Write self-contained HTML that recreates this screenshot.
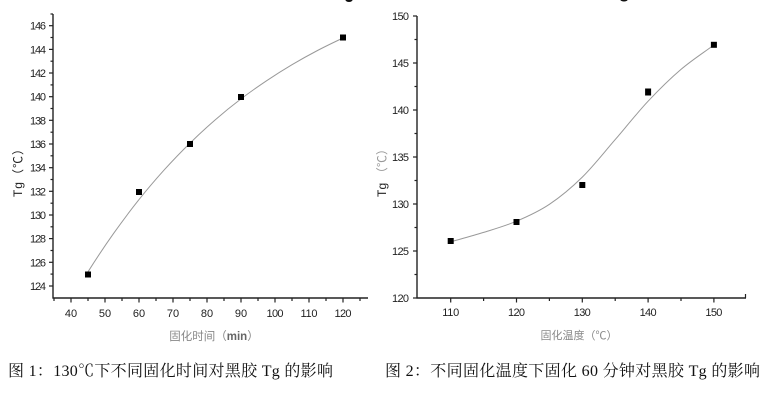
<!DOCTYPE html>
<html><head><meta charset="utf-8"><style>
html,body{margin:0;padding:0;background:#fff;}
svg{display:block;}
.t{font-family:"Liberation Sans","Noto Sans CJK SC",sans-serif;font-size:11px;fill:#222;}
.cap{font-family:"Liberation Serif","Noto Serif CJK SC",serif;font-size:16px;fill:#111;}
.ttl{font-family:"Liberation Sans","Noto Sans CJK SC",sans-serif;font-size:11.5px;fill:#888;}
</style></head><body>
<svg width="775" height="403" viewBox="0 0 775 403" xmlns="http://www.w3.org/2000/svg">
<rect width="775" height="403" fill="#fff"/>
<ellipse cx="349" cy="0" rx="3.5" ry="2" fill="#111"/>
<ellipse cx="624" cy="0" rx="3.5" ry="1.5" fill="#111"/>

<g stroke="#222" stroke-width="1.4" fill="none">
<line x1="53" y1="14" x2="53" y2="298.5"/>
<line x1="52.5" y1="298" x2="368" y2="298"/>
</g>
<g stroke="#222" stroke-width="1.2">
<line x1="49" y1="25.7" x2="53" y2="25.7"/>
<line x1="49" y1="49.4" x2="53" y2="49.4"/>
<line x1="49" y1="73" x2="53" y2="73"/>
<line x1="49" y1="96.7" x2="53" y2="96.7"/>
<line x1="49" y1="120.3" x2="53" y2="120.3"/>
<line x1="49" y1="144" x2="53" y2="144"/>
<line x1="49" y1="167.7" x2="53" y2="167.7"/>
<line x1="49" y1="191.3" x2="53" y2="191.3"/>
<line x1="49" y1="215" x2="53" y2="215"/>
<line x1="49" y1="238.6" x2="53" y2="238.6"/>
<line x1="49" y1="262.3" x2="53" y2="262.3"/>
<line x1="49" y1="286" x2="53" y2="286"/>
<line x1="50.5" y1="14" x2="53" y2="14"/>
<line x1="50.5" y1="37.5" x2="53" y2="37.5"/>
<line x1="50.5" y1="61.2" x2="53" y2="61.2"/>
<line x1="50.5" y1="84.9" x2="53" y2="84.9"/>
<line x1="50.5" y1="108.5" x2="53" y2="108.5"/>
<line x1="50.5" y1="132.2" x2="53" y2="132.2"/>
<line x1="50.5" y1="155.8" x2="53" y2="155.8"/>
<line x1="50.5" y1="179.5" x2="53" y2="179.5"/>
<line x1="50.5" y1="203.2" x2="53" y2="203.2"/>
<line x1="50.5" y1="226.8" x2="53" y2="226.8"/>
<line x1="50.5" y1="250.5" x2="53" y2="250.5"/>
<line x1="50.5" y1="274.1" x2="53" y2="274.1"/>
<line x1="71" y1="298" x2="71" y2="302.5"/>
<line x1="105" y1="298" x2="105" y2="302.5"/>
<line x1="139" y1="298" x2="139" y2="302.5"/>
<line x1="173" y1="298" x2="173" y2="302.5"/>
<line x1="207" y1="298" x2="207" y2="302.5"/>
<line x1="241" y1="298" x2="241" y2="302.5"/>
<line x1="275" y1="298" x2="275" y2="302.5"/>
<line x1="309" y1="298" x2="309" y2="302.5"/>
<line x1="343" y1="298" x2="343" y2="302.5"/>
<line x1="54" y1="298" x2="54" y2="301"/>
<line x1="88" y1="298" x2="88" y2="301"/>
<line x1="122" y1="298" x2="122" y2="301"/>
<line x1="156" y1="298" x2="156" y2="301"/>
<line x1="190" y1="298" x2="190" y2="301"/>
<line x1="224" y1="298" x2="224" y2="301"/>
<line x1="258" y1="298" x2="258" y2="301"/>
<line x1="292" y1="298" x2="292" y2="301"/>
<line x1="326" y1="298" x2="326" y2="301"/>
<line x1="360" y1="298" x2="360" y2="301"/>
</g>
<g class="t" text-anchor="end">
<text x="46" y="29.7" textLength="16">146</text>
<text x="46" y="53.4" textLength="16">144</text>
<text x="46" y="77" textLength="16">142</text>
<text x="46" y="100.7" textLength="16">140</text>
<text x="46" y="124.3" textLength="16">138</text>
<text x="46" y="148" textLength="16">136</text>
<text x="46" y="171.7" textLength="16">134</text>
<text x="46" y="195.3" textLength="16">132</text>
<text x="46" y="219" textLength="16">130</text>
<text x="46" y="242.6" textLength="16">128</text>
<text x="46" y="266.3" textLength="16">126</text>
<text x="46" y="290" textLength="16">124</text>
</g>
<g class="t" text-anchor="middle">
<text x="71" y="317">40</text>
<text x="105" y="317">50</text>
<text x="139" y="317">60</text>
<text x="173" y="317">70</text>
<text x="207" y="317">80</text>
<text x="241" y="317">90</text>
<text x="275" y="317" textLength="17">100</text>
<text x="309" y="317" textLength="17">110</text>
<text x="343" y="317" textLength="17">120</text>
</g>
<text class="ttl" x="214" y="340" text-anchor="middle">固化时间（<tspan fill="#666" font-weight="bold">min</tspan>）</text>
<text transform="translate(22,197) rotate(-90)" class="t" style="font-size:12px" textLength="54">Tg（℃）</text>
<path d="M88,271.8 C96.5,258.3 105,245.63 113.5,233.6 C122,221.57 130.5,210.27 139,199.6 C147.5,188.93 156,179.02 164.5,169.6 C173,160.18 181.5,151.43 190,143.1 C198.5,134.77 207,126.97 215.5,119.6 C224,112.23 232.5,105.37 241,98.9 C249.5,92.43 258,86.5 266.5,80.8 C275,75.1 283.5,69.75 292,64.7 C300.5,59.65 309,54.95 317.5,50.5 C326,46.05 334.5,42 343,38" fill="none" stroke="#999" stroke-width="1"/>
<g fill="#000">
<rect x="85" y="271.5" width="6" height="6"/>
<rect x="136" y="189" width="6" height="6"/>
<rect x="187" y="141" width="6" height="6"/>
<rect x="238" y="94" width="6" height="6"/>
<rect x="340" y="34.5" width="6" height="6"/>
</g>

<g stroke="#222" stroke-width="1.4" fill="none">
<line x1="417" y1="16" x2="417" y2="298.5"/>
<line x1="416.5" y1="298" x2="746" y2="298"/>
</g>
<g stroke="#222" stroke-width="1.2">
<line x1="413" y1="16" x2="417" y2="16"/>
<line x1="413" y1="63" x2="417" y2="63"/>
<line x1="413" y1="110" x2="417" y2="110"/>
<line x1="413" y1="157" x2="417" y2="157"/>
<line x1="413" y1="204" x2="417" y2="204"/>
<line x1="413" y1="251" x2="417" y2="251"/>
<line x1="413" y1="298" x2="417" y2="298"/>
<line x1="414.5" y1="39.5" x2="417" y2="39.5"/>
<line x1="414.5" y1="86.5" x2="417" y2="86.5"/>
<line x1="414.5" y1="133.5" x2="417" y2="133.5"/>
<line x1="414.5" y1="180.5" x2="417" y2="180.5"/>
<line x1="414.5" y1="227.5" x2="417" y2="227.5"/>
<line x1="414.5" y1="274.5" x2="417" y2="274.5"/>
<line x1="450.7" y1="298" x2="450.7" y2="302.5"/>
<line x1="516.5" y1="298" x2="516.5" y2="302.5"/>
<line x1="582.3" y1="298" x2="582.3" y2="302.5"/>
<line x1="648.1" y1="298" x2="648.1" y2="302.5"/>
<line x1="713.9" y1="298" x2="713.9" y2="302.5"/>
<line x1="483.6" y1="298" x2="483.6" y2="301"/>
<line x1="549.4" y1="298" x2="549.4" y2="301"/>
<line x1="615.2" y1="298" x2="615.2" y2="301"/>
<line x1="681" y1="298" x2="681" y2="301"/>
<line x1="745.5" y1="298" x2="745.5" y2="294"/>
</g>
<g class="t" text-anchor="end">
<text x="409" y="20" textLength="17">150</text>
<text x="409" y="67" textLength="17">145</text>
<text x="409" y="114" textLength="17">140</text>
<text x="409" y="161" textLength="17">135</text>
<text x="409" y="208" textLength="17">130</text>
<text x="409" y="255" textLength="17">125</text>
<text x="409" y="302" textLength="17">120</text>
</g>
<g class="t" text-anchor="middle">
<text x="450.7" y="316" textLength="17">110</text>
<text x="516.5" y="316" textLength="17">120</text>
<text x="582.3" y="316" textLength="17">130</text>
<text x="648.1" y="316" textLength="17">140</text>
<text x="713.9" y="316" textLength="17">150</text>
</g>
<text class="ttl" x="579" y="339" text-anchor="middle" style="font-size:11px">固化温度（℃）</text>
<text transform="translate(386,197) rotate(-90)" class="t" style="font-size:12px" textLength="54">Tg <tspan fill="#999">（℃）</tspan></text>
<path d="M450.7,241.8 C461.7,238.7 472.6,235.8 483.6,232.4 C494.6,228.97 505.5,225.88 516.5,221.2 C527.5,216.52 538.4,211.65 549.4,204.3 C560.4,196.95 571.3,187.88 582.3,177.1 C593.3,166.32 604.2,152.25 615.2,139.6 C626.2,126.95 637.1,112.9 648.1,101.2 C659.1,89.5 670,78.77 681,69.4 C692,60.03 702.9,53.13 713.9,45" fill="none" stroke="#999" stroke-width="1"/>
<g fill="#000">
<rect x="447.7" y="238" width="6" height="6"/>
<rect x="513.5" y="219" width="6" height="6"/>
<rect x="579.3" y="182" width="6" height="6"/>
<rect x="645.1" y="88.5" width="6" height="7"/>
<rect x="710.9" y="41.8" width="6" height="6"/>
</g>

<text class="cap" x="8" y="376" textLength="325">图 1：130℃下不同固化时间对黑胶 Tg 的影响</text>
<text class="cap" x="385" y="376" textLength="375">图 2：不同固化温度下固化 60 分钟对黑胶 Tg 的影响</text>
</svg>
</body></html>
